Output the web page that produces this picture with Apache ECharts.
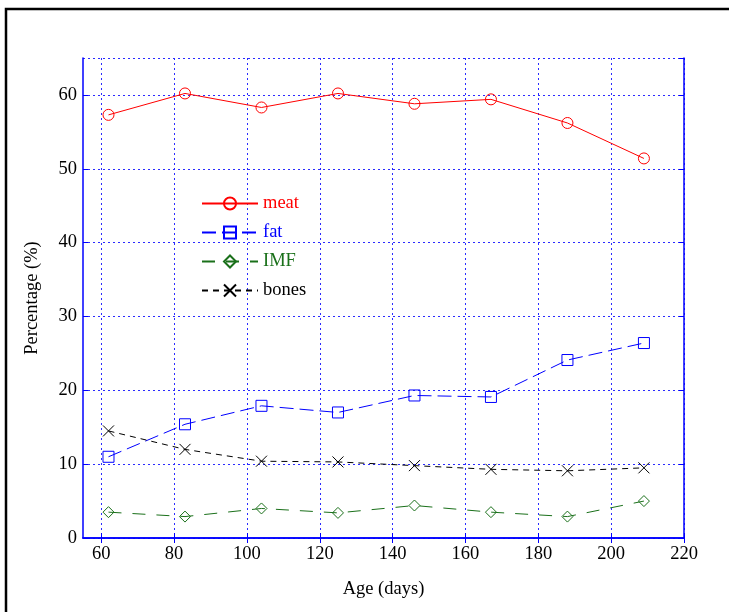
<!DOCTYPE html>
<html>
<head>
<meta charset="utf-8">
<script src="https://cdn.jsdelivr.net/npm/echarts@6/dist/echarts.min.js"></script>
<style>html,body{margin:0;padding:0;background:#fff;}#c{width:729px;height:612px;}</style>
</head>
<body>
<div id="c"></div>
<script>
const ages = [62, 83, 104, 125, 146, 167, 188, 209];
const meat = [57.3, 60.2, 58.3, 60.2, 58.8, 59.4, 56.2, 51.4];
const fat = [11.0, 15.4, 17.9, 17.0, 19.3, 19.1, 24.1, 26.4];
const imf = [3.5, 2.9, 4.0, 3.4, 4.4, 3.5, 2.9, 5.0];
const bones = [14.5, 12.0, 10.4, 10.3, 9.8, 9.3, 9.1, 9.5];
const xTicks = [60, 80, 100, 120, 140, 160, 180, 200, 220];
const seriesNames = ['meat', 'fat', 'IMF', 'bones'];

const RED = '#ff0000', BLUE = '#0000ff', GREEN = '#1a701a', BLACK = '#000000';
const FONT = '"Liberation Serif", "DejaVu Serif", serif';
const FS = 18.5;
const pair = (xs, ys) => xs.map((x, i) => [x, ys[i]]);
const gridColor = '#2b2bff';

const chart = echarts.init(document.getElementById('c'), null, {renderer: 'canvas'});
const axisLineStyle = {color: BLUE, width: 1.5};
chart.setOption({
  animation: false,
  backgroundColor: '#fff',
  graphic: [{
    type: 'rect', shape: {x: 6, y: 9, width: 760, height: 640},
    style: {fill: 'none', stroke: '#000', lineWidth: 2.5}, silent: true, z: -1
  }],
  grid: {left: 83, right: 45, top: 58, bottom: 74, show: false},
  legend: {
    orient: 'vertical', left: 196, top: 189, itemWidth: 56, itemHeight: 15, itemGap: 10,
    textStyle: {fontFamily: FONT, fontSize: FS},
    data: [
      {name: seriesNames[0], textStyle: {color: RED}},
      {name: seriesNames[1], textStyle: {color: BLUE}},
      {name: seriesNames[2], textStyle: {color: GREEN}},
      {name: seriesNames[3], textStyle: {color: BLACK}}
    ]
  },
  xAxis: [{
    type: 'value', min: 55, max: 220,
    name: 'Age (days)', nameLocation: 'middle', nameGap: 42,
    nameTextStyle: {fontFamily: FONT, fontSize: FS, color: '#000'},
    axisLine: {lineStyle: axisLineStyle},
    axisTick: {inside: true, length: 5, lineStyle: {color: BLUE}, customValues: xTicks},
    axisLabel: {fontFamily: FONT, fontSize: FS, color: '#000', margin: 7, customValues: xTicks},
    splitLine: {show: true, customValues: xTicks, lineStyle: {color: gridColor, type: [2, 3], width: 1}}
  }, {
    type: 'value', min: 55, max: 220, position: 'top',
    axisLine: {show: true, lineStyle: axisLineStyle},
    axisTick: {show: true, inside: true, length: 5, lineStyle: {color: BLUE}, customValues: xTicks},
    axisLabel: {show: false},
    splitLine: {show: false}
  }],
  yAxis: [{
    type: 'value', min: 0, max: 65, interval: 10,
    name: 'Percentage (%)', nameLocation: 'middle', nameGap: 41,
    nameTextStyle: {fontFamily: FONT, fontSize: FS, color: '#000'},
    axisLine: {show: true, lineStyle: axisLineStyle},
    axisTick: {show: true, inside: true, length: 5, lineStyle: {color: BLUE}},
    axisLabel: {fontFamily: FONT, fontSize: FS, color: '#000', margin: 6, showMaxLabel: false},
    splitLine: {show: true, lineStyle: {color: gridColor, type: [2, 3], width: 1}}
  }, {
    type: 'value', min: 0, max: 65, interval: 10, position: 'right',
    axisLine: {show: true, lineStyle: axisLineStyle},
    axisTick: {show: true, inside: true, length: 5, lineStyle: {color: BLUE}},
    axisLabel: {show: false},
    splitLine: {show: false}
  }],
  series: [{
    name: 'meat', type: 'line', data: pair(ages, meat),
    symbol: 'circle', symbolSize: 11, showAllSymbol: true,
    lineStyle: {color: RED, width: 1, type: 'solid'},
    itemStyle: {color: 'transparent', borderColor: RED, borderWidth: 1}
  }, {
    name: 'fat', type: 'line', data: pair(ages, fat),
    symbol: 'rect', symbolSize: 11,
    lineStyle: {color: BLUE, width: 1, type: [14, 6]},
    itemStyle: {color: 'transparent', borderColor: BLUE, borderWidth: 1}
  }, {
    name: 'IMF', type: 'line', data: pair(ages, imf),
    symbol: 'diamond', symbolSize: 11,
    lineStyle: {color: GREEN, width: 1, type: [13, 11]},
    itemStyle: {color: 'transparent', borderColor: GREEN, borderWidth: 1}
  }, {
    name: 'bones', type: 'line', data: pair(ages, bones),
    symbol: 'path://M0,0L10,10M10,0L0,10', symbolSize: 11,
    lineStyle: {color: BLACK, width: 1, type: [6, 5]},
    itemStyle: {color: 'transparent', borderColor: BLACK, borderWidth: 1}
  }]
});
</script>
</body>
</html>
